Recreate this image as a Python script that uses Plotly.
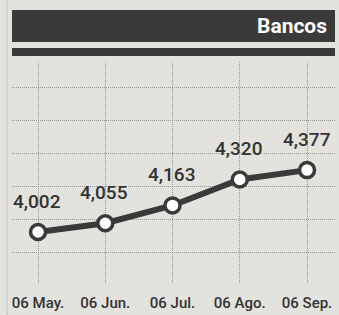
import plotly.graph_objects as go

categories = ["06 May.", "06 Jun.", "06 Jul.", "06 Ago.", "06 Sep."]
values = [4002, 4055, 4163, 4320, 4377]
value_labels = ["4,002", "4,055", "4,163", "4,320", "4,377"]
title_text = "Bancos"

BG = "#e3e2dd"
DARK = "#3a3a3a"
FONT = "Roboto, Liberation Sans, sans-serif"

x_idx = list(range(len(categories)))

fig = go.Figure()
fig.add_trace(go.Scatter(
    x=x_idx, y=values, mode="lines+markers",
    line=dict(color=DARK, width=6),
    marker=dict(size=15, color="white", line=dict(color=DARK, width=3.5)),
    hoverinfo="skip", showlegend=False,
))

for xi, v, lab in zip(x_idx, values, value_labels):
    fig.add_annotation(x=xi, y=v, text=lab, showarrow=False, yshift=31, xshift=-1,
                       font=dict(family=FONT, size=19, color="#333333", weight=500))

# header bars
fig.add_shape(type="rect", xref="paper", yref="paper", x0=0.0, x1=1.0,
              y0=(315 - 42 - 32) / 221, y1=(315 - 10 - 32) / 221,
              fillcolor=DARK, line=dict(width=0), layer="above")
fig.add_shape(type="rect", xref="paper", yref="paper", x0=0.0, x1=1.0,
              y0=(315 - 56 - 32) / 221, y1=(315 - 48 - 32) / 221,
              fillcolor=DARK, line=dict(width=0), layer="above")
fig.add_annotation(xref="paper", yref="paper", x=(329 - 12) / 323, y=(315 - 26 - 32) / 221,
                   xanchor="right", yanchor="middle", showarrow=False, text="<b>%s</b>" % title_text,
                   font=dict(family=FONT, size=21, color="white"))
# left dotted border
fig.add_shape(type="line", xref="paper", yref="paper", x0=(7 - 12) / 323, x1=(7 - 12) / 323,
              y0=-32 / 221, y1=(315 - 32) / 221,
              line=dict(color="#aaaaaa", width=1, dash="1px,1px"))

fig.update_layout(
    width=339, height=315,
    margin=dict(l=12, r=4, t=62, b=32),
    paper_bgcolor=BG, plot_bgcolor=BG,
    xaxis=dict(
        range=[-0.387, 4.416], tickmode="array", tickvals=x_idx, ticktext=categories,
        showgrid=True, gridcolor="#959595", griddash="1px,1px", gridwidth=1,
        zeroline=False, showline=False, ticks="", ticklabelstandoff=9,
        tickfont=dict(family=FONT, size=15, color="#333333", weight=500),
    ),
    yaxis=dict(
        range=[3693, 5032], tick0=3875, dtick=200, showticklabels=False,
        showgrid=True, gridcolor="#959595", griddash="1px,1px", gridwidth=1,
        zeroline=False, showline=False, ticks="",
    ),
)

fig.write_html("out.html", config={"displayModeBar": False},
               post_script="document.body.style.margin='0';document.body.style.background='%s';" % BG)
